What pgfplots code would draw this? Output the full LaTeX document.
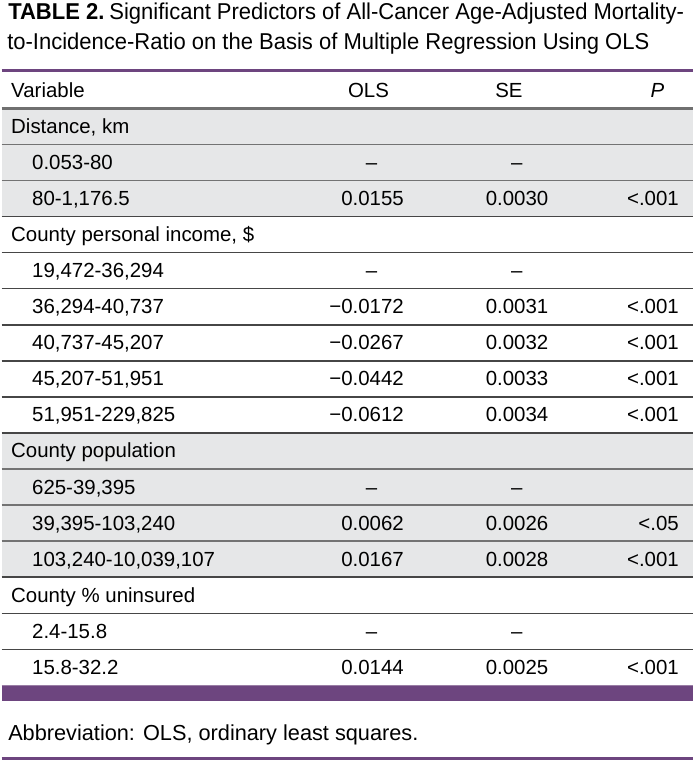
\documentclass[border=0pt]{standalone}
\usepackage{pgfplots}
\pgfplotsset{compat=1.18}
\usepackage{fontspec}
\setmainfont{Liberation Sans}
\newfontfamily\titlefont{Liberation Sans}[FakeStretch=0.96]
\definecolor{jpurple}{RGB}{109,69,127}
\definecolor{rowgray}{RGB}{230,231,232}
\definecolor{txt}{RGB}{40,40,40}
\definecolor{rulec}{RGB}{70,70,70}
\definecolor{rulelight}{RGB}{115,115,115}
\definecolor{headrule}{RGB}{112,112,112}
\newcommand\bodyfont{\fontsize{20.5}{24}\selectfont}
\tikzset{bt/.style={font=\bodyfont}}
\begin{document}%
\begin{tikzpicture}[font=\bodyfont]%
\begin{axis}[
  width=694pt, height=762pt, scale only axis,
  xmin=0, xmax=694, ymin=0, ymax=762, y dir=reverse,
  hide axis, clip=false,
  every node/.append style={inner sep=0pt, outer sep=0pt, text=txt},
]
\path (axis cs:0,0) rectangle (axis cs:694,762);
% shaded row groups
\addplot[fill=rowgray, draw=none] coordinates {(0,106) (694,106) (694,214.6) (0,214.6)} -- cycle;
\addplot[fill=rowgray, draw=none] coordinates {(0,431.8) (694,431.8) (694,576.6) (0,576.6)} -- cycle;
% purple rules and band
\addplot[jpurple, line width=3pt] coordinates {(0,68.5) (694,68.5)};
\addplot[fill=jpurple, draw=none] coordinates {(0,685.2) (694,685.2) (694,701) (0,701)} -- cycle;
\addplot[jpurple!70, line width=1pt] coordinates {(0,685.5) (694,685.5)};
\addplot[jpurple, line width=3.5pt] coordinates {(0,758.3) (694,758.3)};
% header rule
\addplot[headrule, line width=3pt] coordinates {(0,106) (694,106)};
% row rules inside shaded groups
\pgfplotsinvokeforeach{142.2,178.4,468,504.2,540.4}{
  \addplot[rulelight, line width=1.6pt] coordinates {(0,#1) (694,#1)};
}
% other row rules
\pgfplotsinvokeforeach{214.6,250.8,287,323.2,359.4,395.6,431.8,576.6,612.8,649}{
  \addplot[rulec, line width=1.6pt] coordinates {(0,#1) (694,#1)};
}
% title
\node[anchor=base west] at (axis cs:3,17.3) {\titlefont\fontsize{23}{28}\selectfont\textbf{TABLE 2.}\hspace{5pt}Significant Predictors of All-Cancer Age-Adjusted Mortality-};
\node[anchor=base west] at (axis cs:2,46.5) {\titlefont\fontsize{23}{28}\selectfont to-Incidence-Ratio on the Basis of Multiple Regression Using OLS};
% header
\node[bt, anchor=base west] at (axis cs:6,95.5) {Variable};
\node[bt, anchor=base] at (axis cs:368,95.5) {OLS};
\node[bt, anchor=base] at (axis cs:509,95.5) {SE};
\node[bt, anchor=base] at (axis cs:658,95.5) {\itshape P};
% variable column
\node[bt, anchor=base west] at (axis cs:6,131.1) {Distance, km};
\node[bt, anchor=base west] at (axis cs:27,167.3) {0.053-80};
\node[bt, anchor=base west] at (axis cs:27,203.5) {80-1,176.5};
\node[bt, anchor=base west] at (axis cs:6,239.7) {County personal income, \$};
\node[bt, anchor=base west] at (axis cs:27,275.9) {19,472-36,294};
\node[bt, anchor=base west] at (axis cs:27,312.1) {36,294-40,737};
\node[bt, anchor=base west] at (axis cs:27,348.3) {40,737-45,207};
\node[bt, anchor=base west] at (axis cs:27,384.5) {45,207-51,951};
\node[bt, anchor=base west] at (axis cs:27,420.7) {51,951-229,825};
\node[bt, anchor=base west] at (axis cs:6,456.9) {County population};
\node[bt, anchor=base west] at (axis cs:27,493.1) {625-39,395};
\node[bt, anchor=base west] at (axis cs:27,529.3) {39,395-103,240};
\node[bt, anchor=base west] at (axis cs:27,565.5) {103,240-10,039,107};
\node[bt, anchor=base west] at (axis cs:6,601.7) {County \% uninsured};
\node[bt, anchor=base west] at (axis cs:27,637.9) {2.4-15.8};
\node[bt, anchor=base west] at (axis cs:27,674.1) {15.8-32.2};
% reference categories
\pgfplotsinvokeforeach{167.3,275.9,493.1,637.9}{
  \node[bt, anchor=base] at (axis cs:371,#1) {–};
  \node[bt, anchor=base] at (axis cs:517,#1) {–};
}
% OLS column
\node[bt, anchor=base east] at (axis cs:407,203.5) {0.0155};
\node[bt, anchor=base east] at (axis cs:407,312.1) {−0.0172};
\node[bt, anchor=base east] at (axis cs:407,348.3) {−0.0267};
\node[bt, anchor=base east] at (axis cs:407,384.5) {−0.0442};
\node[bt, anchor=base east] at (axis cs:407,420.7) {−0.0612};
\node[bt, anchor=base east] at (axis cs:407,529.3) {0.0062};
\node[bt, anchor=base east] at (axis cs:407,565.5) {0.0167};
\node[bt, anchor=base east] at (axis cs:407,674.1) {0.0144};
% SE column
\node[bt, anchor=base east] at (axis cs:552,203.5) {0.0030};
\node[bt, anchor=base east] at (axis cs:552,312.1) {0.0031};
\node[bt, anchor=base east] at (axis cs:552,348.3) {0.0032};
\node[bt, anchor=base east] at (axis cs:552,384.5) {0.0033};
\node[bt, anchor=base east] at (axis cs:552,420.7) {0.0034};
\node[bt, anchor=base east] at (axis cs:552,529.3) {0.0026};
\node[bt, anchor=base east] at (axis cs:552,565.5) {0.0028};
\node[bt, anchor=base east] at (axis cs:552,674.1) {0.0025};
% P column
\pgfplotsinvokeforeach{203.5,312.1,348.3,384.5,420.7,565.5,674.1}{
  \node[bt, anchor=base east] at (axis cs:683,#1) {<.001};
}
\node[bt, anchor=base east] at (axis cs:683,529.3) {<.05};
% footnote
\node[anchor=base west] at (axis cs:3,740) {\fontsize{21.8}{26}\selectfont Abbreviation: OLS, ordinary least squares.};
\end{axis}
\end{tikzpicture}%
\end{document}
